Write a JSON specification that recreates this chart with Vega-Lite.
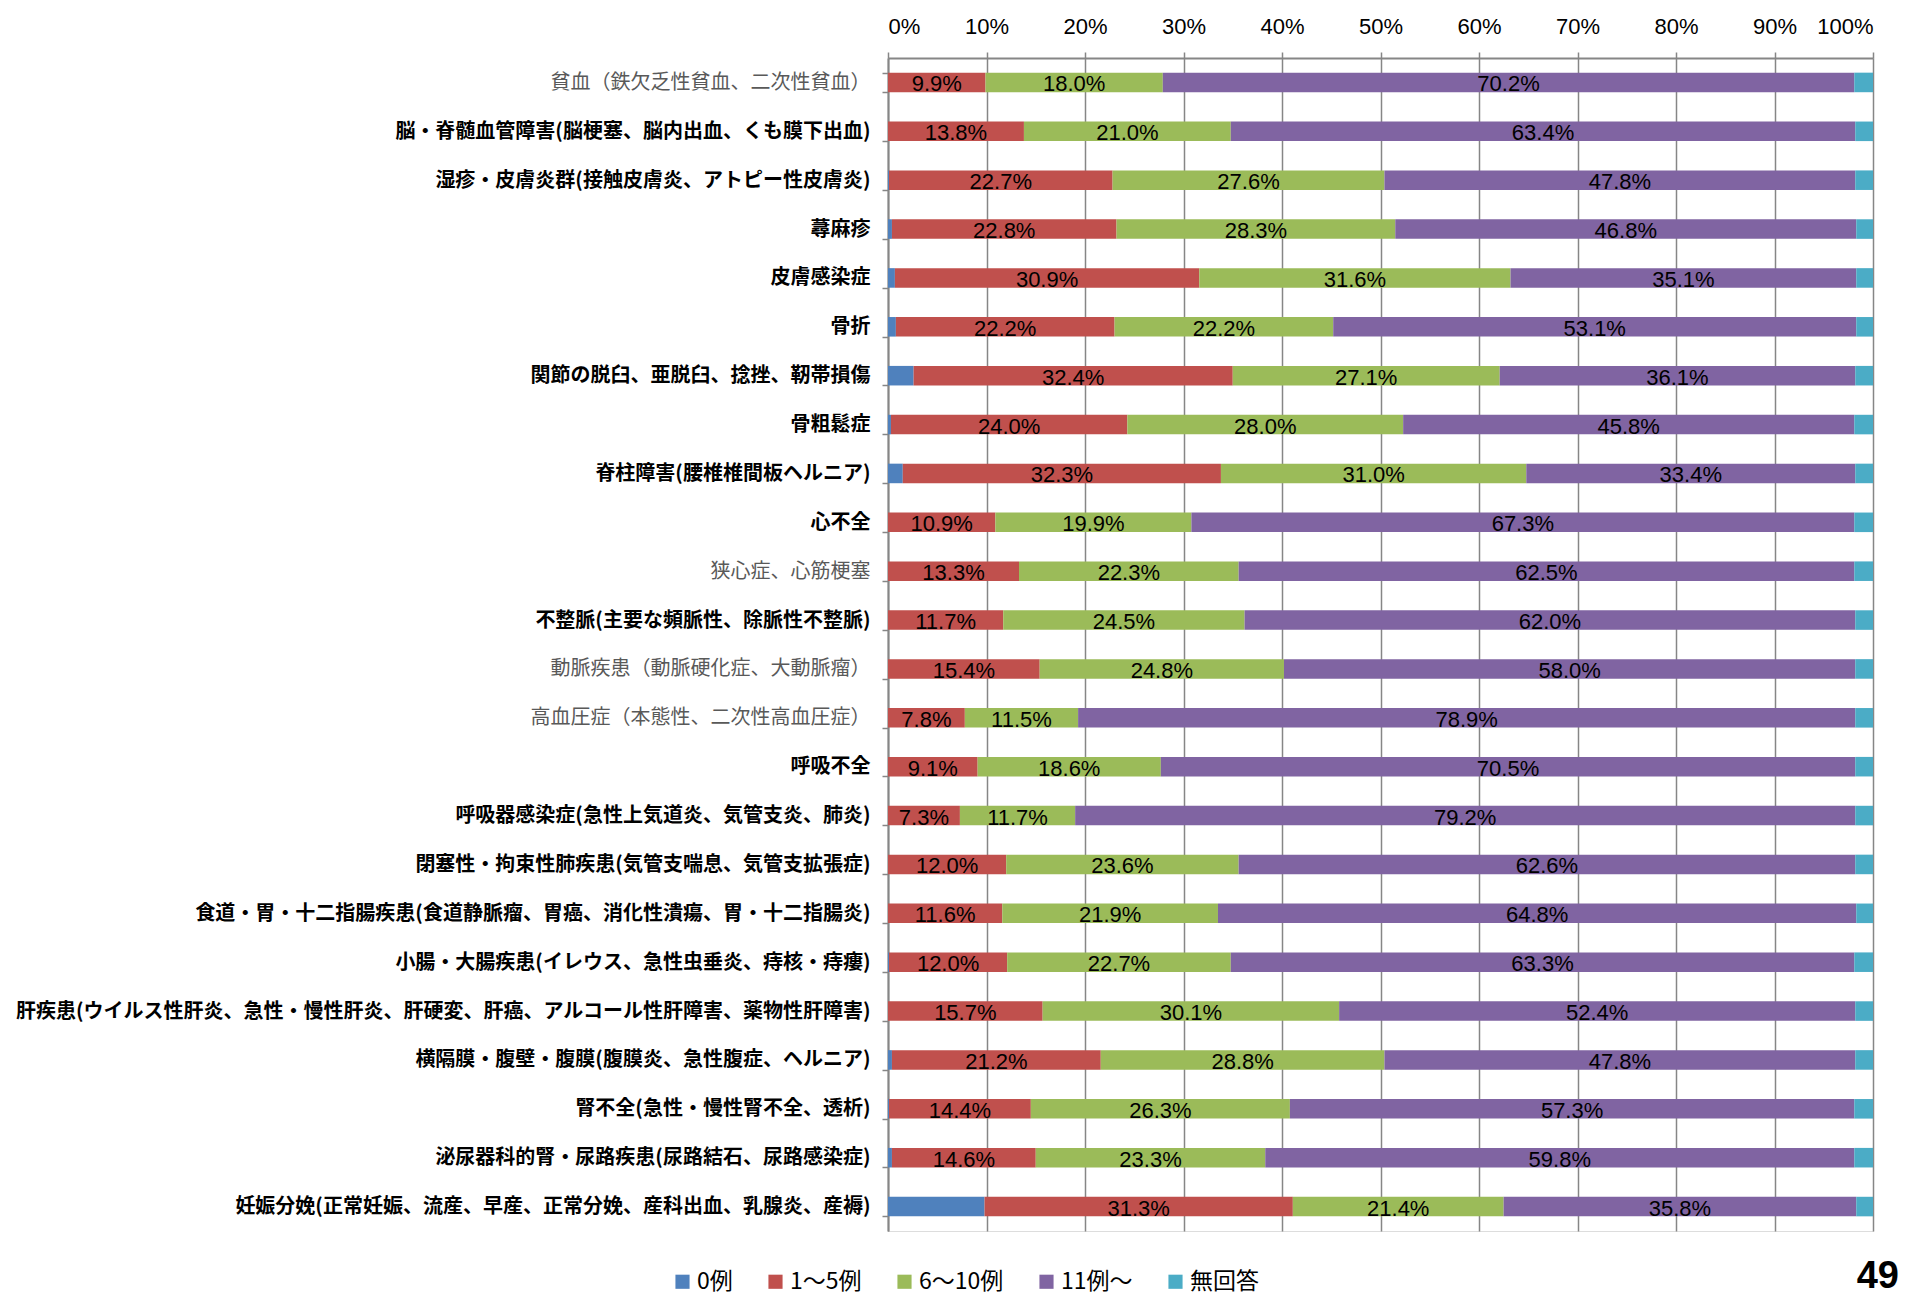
{
  "$schema": "https://vega.github.io/schema/vega-lite/v6.json",
  "autosize": "none",
  "width": 985,
  "height": 1173,
  "padding": {"left": 888, "top": 58, "right": 34, "bottom": 67},
  "background": "white",
  "title": {"text": "49", "orient": "bottom", "anchor": "end", "frame": "group", "font": "Liberation Sans", "fontSize": 38, "fontWeight": "bold", "color": "#000000", "offset": -36, "dx": 26},
  "data": {"values": [
    {"d": "貧血（鉄欠乏性貧血、二次性貧血）", "0例": 0, "1～5例": 9.9, "6～10例": 18.0, "11例～": 70.2, "無回答": 1.9},
    {"d": "脳・脊髄血管障害(脳梗塞、脳内出血、くも膜下出血)", "0例": 0, "1～5例": 13.8, "6～10例": 21.0, "11例～": 63.4, "無回答": 1.8},
    {"d": "湿疹・皮膚炎群(接触皮膚炎、アトピー性皮膚炎)", "0例": 0.1, "1～5例": 22.7, "6～10例": 27.6, "11例～": 47.8, "無回答": 1.8},
    {"d": "蕁麻疹", "0例": 0.4, "1～5例": 22.8, "6～10例": 28.3, "11例～": 46.8, "無回答": 1.7},
    {"d": "皮膚感染症", "0例": 0.7, "1～5例": 30.9, "6～10例": 31.6, "11例～": 35.1, "無回答": 1.7},
    {"d": "骨折", "0例": 0.8, "1～5例": 22.2, "6～10例": 22.2, "11例～": 53.1, "無回答": 1.7},
    {"d": "関節の脱臼、亜脱臼、捻挫、靭帯損傷", "0例": 2.6, "1～5例": 32.4, "6～10例": 27.1, "11例～": 36.1, "無回答": 1.8},
    {"d": "骨粗鬆症", "0例": 0.3, "1～5例": 24.0, "6～10例": 28.0, "11例～": 45.8, "無回答": 1.9},
    {"d": "脊柱障害(腰椎椎間板ヘルニア)", "0例": 1.5, "1～5例": 32.3, "6～10例": 31.0, "11例～": 33.4, "無回答": 1.8},
    {"d": "心不全", "0例": 0, "1～5例": 10.9, "6～10例": 19.9, "11例～": 67.3, "無回答": 1.9},
    {"d": "狭心症、心筋梗塞", "0例": 0, "1～5例": 13.3, "6～10例": 22.3, "11例～": 62.5, "無回答": 1.9},
    {"d": "不整脈(主要な頻脈性、除脈性不整脈)", "0例": 0, "1～5例": 11.7, "6～10例": 24.5, "11例～": 62.0, "無回答": 1.8},
    {"d": "動脈疾患（動脈硬化症、大動脈瘤）", "0例": 0, "1～5例": 15.4, "6～10例": 24.8, "11例～": 58.0, "無回答": 1.8},
    {"d": "高血圧症（本態性、二次性高血圧症）", "0例": 0, "1～5例": 7.8, "6～10例": 11.5, "11例～": 78.9, "無回答": 1.8},
    {"d": "呼吸不全", "0例": 0, "1～5例": 9.1, "6～10例": 18.6, "11例～": 70.5, "無回答": 1.8},
    {"d": "呼吸器感染症(急性上気道炎、気管支炎、肺炎)", "0例": 0, "1～5例": 7.3, "6～10例": 11.7, "11例～": 79.2, "無回答": 1.8},
    {"d": "閉塞性・拘束性肺疾患(気管支喘息、気管支拡張症)", "0例": 0, "1～5例": 12.0, "6～10例": 23.6, "11例～": 62.6, "無回答": 1.8},
    {"d": "食道・胃・十二指腸疾患(食道静脈瘤、胃癌、消化性潰瘍、胃・十二指腸炎)", "0例": 0, "1～5例": 11.6, "6～10例": 21.9, "11例～": 64.8, "無回答": 1.7},
    {"d": "小腸・大腸疾患(イレウス、急性虫垂炎、痔核・痔瘻)", "0例": 0.1, "1～5例": 12.0, "6～10例": 22.7, "11例～": 63.3, "無回答": 1.9},
    {"d": "肝疾患(ウイルス性肝炎、急性・慢性肝炎、肝硬変、肝癌、アルコール性肝障害、薬物性肝障害)", "0例": 0, "1～5例": 15.7, "6～10例": 30.1, "11例～": 52.4, "無回答": 1.8},
    {"d": "横隔膜・腹壁・腹膜(腹膜炎、急性腹症、ヘルニア)", "0例": 0.4, "1～5例": 21.2, "6～10例": 28.8, "11例～": 47.8, "無回答": 1.8},
    {"d": "腎不全(急性・慢性腎不全、透析)", "0例": 0.1, "1～5例": 14.4, "6～10例": 26.3, "11例～": 57.3, "無回答": 1.9},
    {"d": "泌尿器科的腎・尿路疾患(尿路結石、尿路感染症)", "0例": 0.4, "1～5例": 14.6, "6～10例": 23.3, "11例～": 59.8, "無回答": 1.9},
    {"d": "妊娠分娩(正常妊娠、流産、早産、正常分娩、産科出血、乳腺炎、産褥)", "0例": 9.8, "1～5例": 31.3, "6～10例": 21.4, "11例～": 35.8, "無回答": 1.7}
  ]},
  "transform": [
    {"fold": ["0例", "1～5例", "6～10例", "11例～", "無回答"], "as": ["c", "v"]},
    {"calculate": "indexof(['0例','1～5例','6～10例','11例～','無回答'], datum.c)", "as": "k"},
    {"calculate": "(datum.c == '0例' || datum.c == '無回答') ? '' : format(datum.v, '.1f') + '%'", "as": "lab"}
  ],
  "encoding": {
    "y": {
      "field": "d", "type": "nominal", "sort": null, "title": null,
      "scale": {"paddingInner": 0.6, "paddingOuter": 0.3},
      "axis": {
        "tickBand": "extent", "tickSize": 6, "tickColor": "#868686", "tickWidth": 1.5,
        "domainColor": "#868686", "domainWidth": 2,
        "labelFont": "Noto Sans CJK JP", "labelFontSize": 20, "labelPadding": 12, "labelLimit": 900,
        "labelColor": {"condition": {"test": "indexof(['貧血（鉄欠乏性貧血、二次性貧血）','狭心症、心筋梗塞','動脈疾患（動脈硬化症、大動脈瘤）','高血圧症（本態性、二次性高血圧症）'], datum.value) >= 0", "value": "#595959"}, "value": "#000000"},
        "labelFontWeight": {"condition": {"test": "indexof(['貧血（鉄欠乏性貧血、二次性貧血）','狭心症、心筋梗塞','動脈疾患（動脈硬化症、大動脈瘤）','高血圧症（本態性、二次性高血圧症）'], datum.value) >= 0", "value": "normal"}, "value": "bold"}
      }
    }
  },
  "layer": [
    {
      "mark": {"type": "bar"},
      "encoding": {
        "x": {
          "field": "v", "type": "quantitative", "stack": "zero", "title": null,
          "scale": {"domain": [0, 100], "nice": false},
          "axis": {
            "orient": "top", "values": [0, 10, 20, 30, 40, 50, 60, 70, 80, 90, 100],
            "labelExpr": "datum.value + '%'", "labelFont": "Liberation Sans", "labelFontSize": 22, "labelColor": "#000000",
            "labelPadding": 14, "tickSize": 6, "tickColor": "#868686", "tickWidth": 1.5,
            "domainColor": "#868686", "domainWidth": 2,
            "grid": true, "gridColor": "#868686", "gridWidth": 1.5
          }
        },
        "color": {
          "field": "c", "type": "nominal", "title": null,
          "scale": {"domain": ["0例", "1～5例", "6～10例", "11例～", "無回答"], "range": ["#4F81BD", "#C0504D", "#9BBB59", "#8064A2", "#4BACC6"]},
          "legend": {
            "orient": "none", "direction": "horizontal", "legendX": -217, "legendY": 1212,
            "symbolType": "square", "symbolSize": 200, "symbolStrokeWidth": 0,
            "labelFont": "Noto Sans CJK JP", "labelFontSize": 23, "labelColor": "#000000",
            "columnPadding": 31, "labelOffset": 3
          }
        },
        "order": {"field": "k", "type": "quantitative"}
      }
    },
    {
      "mark": {"type": "text", "font": "Liberation Sans", "fontSize": 22, "color": "#000000", "baseline": "middle", "dy": 2},
      "encoding": {
        "x": {"field": "v", "type": "quantitative", "stack": "zero", "bandPosition": 0.5},
        "detail": {"field": "c"},
        "text": {"field": "lab"},
        "order": {"field": "k", "type": "quantitative"}
      }
    }
  ]
}
